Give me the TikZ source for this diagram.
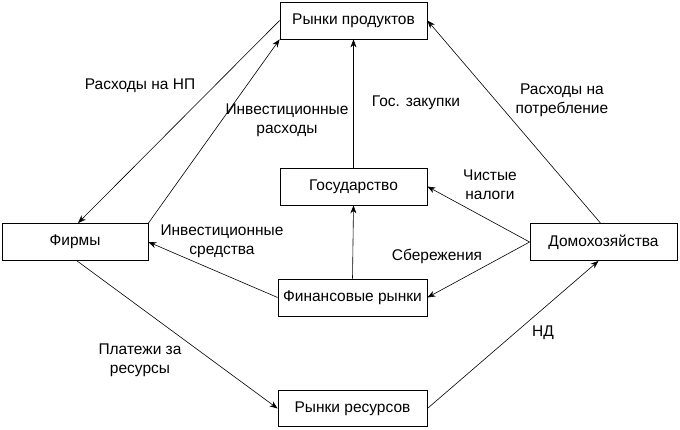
\documentclass[tikz,border=0pt]{standalone}
\usepackage{fontspec}
\setmainfont{Liberation Sans}
\usetikzlibrary{arrows.meta}
\begin{document}
\begin{tikzpicture}[x=1pt,y=-1pt,
  box/.style={draw=black,line width=0.8pt,fill=white,minimum width=147pt,minimum height=37pt,inner sep=0pt,font=\fontsize{15.5}{18}\selectfont},
  lbl/.style={align=center,font=\fontsize{15.5}{19}\selectfont,inner sep=0pt},
  flow/.style={draw=black,line width=0.6pt,-{Stealth[length=8pt,width=6pt]}}]
\useasboundingbox (0,0) rectangle (680,429);
\node[box] (prod) at (353.5,20.5) {Рынки продуктов};
\node[box] (gov) at (353.5,186.5) {Государство};
\node[box,minimum width=146pt] (firms) at (75,242) {Фирмы};
\node[box,minimum width=149pt] (fin) at (352.5,297.5) {Финансовые рынки};
\node[box,minimum width=149pt,minimum height=36pt] (res) at (352.5,408.5) {Рынки ресурсов};
\node[box] (house) at (603.5,242) {Домохозяйства};

\draw[flow] (prod.west) -- ([xshift=3pt]firms.north);
\draw[flow] (firms.north east) -- (prod.south west);
\draw[flow] (gov.north) -- (prod.south);
\draw[flow] (fin.north) -- (gov.south);
\draw[flow] (house.west) -- (gov.east);
\draw[flow] (house.west) -- (fin.east);
\draw[flow] (fin.west) -- (firms.east);
\draw[flow] ([xshift=2pt]firms.south) -- (res.west);
\draw[flow] (res.east) -- ([xshift=-5pt]house.south);
\draw[flow] ([xshift=-3pt]house.north) -- (prod.east);

\node[lbl] (l1) at (140,86) {Расходы на НП};
\node[lbl] (l2) at (287,120) {Инвестиционные\\расходы};
\node[lbl] (l3) at (416,103) {Гос. закупки};
\node[lbl] (l4) at (562,100) {Расходы на\\потребление};
\node[lbl] (l5) at (490,185) {Чистые\\налоги};
\node[lbl] (l6) at (222,241) {Инвестиционные\\средства};
\node[lbl] (l7) at (437,256) {Сбережения};
\node[lbl] (l8) at (140,360) {Платежи за\\ресурсы};
\node[lbl] (l9) at (543,333) {НД};
\end{tikzpicture}
\end{document}
